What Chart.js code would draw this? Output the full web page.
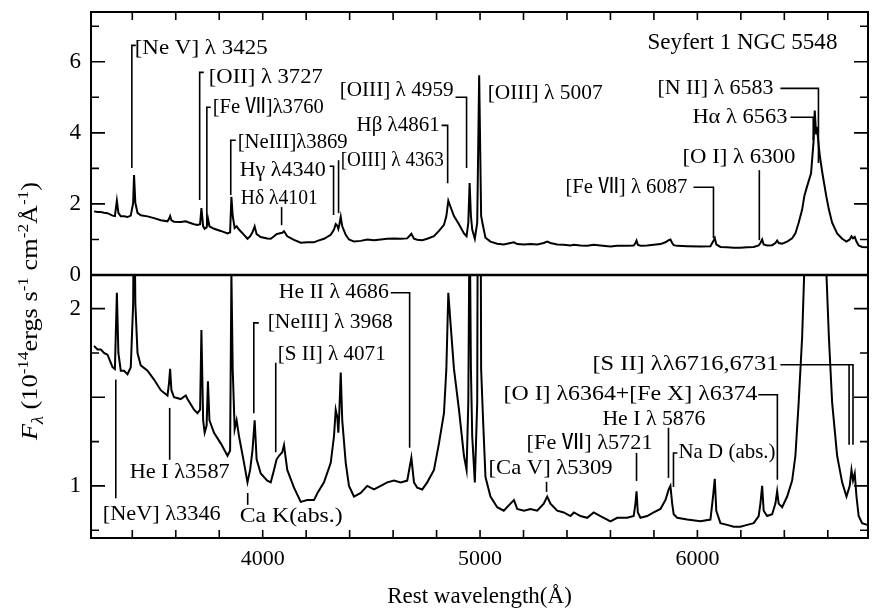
<!DOCTYPE html>
<html>
<head>
<meta charset="utf-8">
<script src="https://cdn.jsdelivr.net/npm/chart.js@4.4.0/dist/chart.umd.min.js"></script>
<style>
  html, body { margin: 0; padding: 0; background: #fff; }
  #spec { display: block; }
</style>
</head>
<body>
<canvas id="spec" width="873" height="611" style="width:873px;height:611px"></canvas>
<script>
// rest wavelength (A) and flux (1e-14 erg/s/cm2/A)
const wavelength = [
  3224, 3240, 3255, 3270, 3286, 3309, 3320, 3329, 3336, 3347, 3362, 3378, 3393, 3404, 3408, 3414,
  3424, 3439, 3470, 3500, 3531, 3562, 3569, 3574, 3580, 3592, 3623, 3646, 3654, 3684, 3700, 3712,
  3718, 3726, 3733, 3742, 3748, 3755, 3776, 3807, 3838, 3850, 3856, 3862, 3871, 3880, 3891, 3914,
  3930, 3942, 3953, 3963, 3972, 3991, 4021, 4037, 4052, 4064, 4075, 4090, 4098, 4113, 4144, 4175,
  4205, 4236, 4252, 4282, 4313, 4328, 4336, 4343, 4348, 4353, 4359, 4366, 4382, 4397, 4420, 4451,
  4481, 4512, 4543, 4573, 4604, 4635, 4665, 4684, 4696, 4711, 4734, 4757, 4788, 4811, 4834, 4845,
  4854, 4864, 4880, 4903, 4926, 4938, 4946, 4952, 4958, 4964, 4976, 4987, 4996, 5005, 5014, 5025,
  5048, 5079, 5109, 5140, 5156, 5171, 5202, 5232, 5263, 5293, 5309, 5324, 5355, 5385, 5416, 5432,
  5462, 5493, 5523, 5554, 5600, 5631, 5677, 5707, 5715, 5720, 5726, 5738, 5769, 5799, 5830, 5853,
  5868, 5876, 5884, 5891, 5907, 5953, 6014, 6060, 6072, 6080, 6087, 6106, 6137, 6167, 6198, 6229,
  6259, 6282, 6290, 6298, 6305, 6321, 6344, 6359, 6367, 6374, 6390, 6413, 6436, 6451, 6466, 6482,
  6492, 6504, 6523, 6535, 6540, 6546, 6550, 6559, 6564, 6575, 6593, 6605, 6620, 6643, 6666, 6686,
  6701, 6709, 6716, 6724, 6732, 6742, 6758, 6781
];
const flux = [
  1.79, 1.77, 1.77, 1.75, 1.74, 1.67, 1.66, 2.09, 1.75, 1.65, 1.65, 1.63, 1.67, 2.03, 2.81, 2.03,
  1.75, 1.68, 1.65, 1.60, 1.54, 1.51, 1.58, 1.66, 1.54, 1.50, 1.49, 1.51, 1.49, 1.43, 1.41, 1.43,
  1.88, 1.37, 1.30, 1.34, 1.59, 1.37, 1.30, 1.24, 1.17, 1.20, 2.20, 1.66, 1.32, 1.37, 1.28, 1.13,
  1.02, 1.09, 1.20, 1.37, 1.15, 1.07, 1.03, 1.02, 1.09, 1.15, 1.17, 1.19, 1.23, 1.09, 0.99, 0.91,
  0.92, 0.92, 0.96, 1.02, 1.13, 1.28, 1.43, 1.39, 1.30, 1.43, 1.64, 1.37, 1.13, 1.00, 0.94, 0.96,
  1.00, 0.98, 1.00, 1.02, 1.03, 1.02, 1.03, 1.16, 1.02, 0.99, 0.98, 1.02, 1.09, 1.24, 1.41, 1.66,
  2.09, 1.92, 1.66, 1.43, 1.17, 1.09, 1.47, 2.59, 1.66, 1.28, 1.02, 1.47, 5.62, 1.66, 1.37, 1.05,
  0.94, 0.88, 0.86, 0.90, 0.92, 0.87, 0.86, 0.87, 0.86, 0.90, 0.94, 0.90, 0.86, 0.85, 0.83, 0.85,
  0.83, 0.82, 0.85, 0.83, 0.80, 0.82, 0.82, 0.83, 0.90, 0.97, 0.85, 0.82, 0.83, 0.85, 0.87, 0.92,
  0.98, 1.00, 0.90, 0.84, 0.82, 0.81, 0.80, 0.81, 0.94, 1.04, 0.86, 0.79, 0.78, 0.77, 0.77, 0.78,
  0.79, 0.83, 0.90, 1.00, 0.86, 0.83, 0.84, 0.90, 0.97, 0.90, 0.88, 0.94, 1.03, 1.17, 1.47, 1.84,
  2.22, 2.48, 2.86, 3.79, 4.63, 3.98, 4.17, 3.60, 3.32, 2.87, 2.22, 1.84, 1.47, 1.17, 1.02, 0.94,
  1.00, 1.09, 1.03, 1.07, 0.94, 0.83, 0.79, 0.78
];

// axes
const xRange = [3210, 6785];
const xTicks = [3400, 3600, 3800, 4000, 4200, 4400, 4600, 4800, 5000, 5200, 5400, 5600, 5800, 6000, 6200, 6400, 6600];
const xTickLabels = [4000, 5000, 6000];
const topRange = [0, 7.4];
const topTicks = [1, 2, 3, 4, 5, 6, 7];
const topTickLabels = [0, 2, 4, 6];
const botRange = [0.706, 2.19];
const botTicks = [0.75, 1, 1.25, 1.5, 1.75, 2];
const botMajor = [1, 1.5, 2];
const botTickLabels = [1, 2];

// line identifications: text anchor and leader lines in data coordinates, w = text width in px
const notes = [
  { text: '[Ne V] λ 3425', axis: 'yTop', at: [3411, 6.38], w: 133, paths: [[[3416, 6.46], [3398, 6.46], [3398, 3.01]]] },
  { text: '[OII] λ 3727', axis: 'yTop', at: [3752, 5.56], w: 114, paths: [[[3729, 5.70], [3710, 5.70], [3710, 2.11]]] },
  { text: '[Fe Ⅶ]λ3760', axis: 'yTop', at: [3770, 4.72], w: 111, paths: [[[3761, 4.72], [3743, 4.72], [3743, 1.40]]] },
  { text: '[NeIII]λ3869', axis: 'yTop', at: [3885, 3.74], w: 110, paths: [[[3876, 3.79], [3853, 3.79], [3853, 2.25]]] },
  { text: 'Hγ λ4340', axis: 'yTop', at: [3894, 2.95], w: 86, paths: [[[4308, 3.06], [4326, 3.06], [4326, 1.69]]] },
  { text: 'Hδ λ4101', axis: 'yTop', at: [3899, 2.16], w: 77, paths: [[[4087, 1.91], [4087, 1.40]]] },
  { text: '[OIII] λ 4363', axis: 'yTop', at: [4359, 3.23], w: 103, paths: [[[4349, 3.23], [4349, 1.74]]] },
  { text: '[OIII] λ 4959', axis: 'yTop', at: [4354, 5.20], w: 114, paths: [[[4887, 5.0], [4938, 5.0], [4938, 3.01]]] },
  { text: 'Hβ λ4861', axis: 'yTop', at: [4432, 4.21], w: 83, paths: [[[4823, 4.21], [4851, 4.21], [4851, 2.58]]] },
  { text: '[OIII] λ 5007', axis: 'yTop', at: [5035, 5.11], w: 115, paths: [] },
  { text: 'Seyfert 1 NGC 5548', axis: 'yTop', at: [5770, 6.52], w: 190, paths: [] },
  { text: '[N II] λ 6583', axis: 'yTop', at: [5816, 5.25], w: 116, paths: [[[6382, 5.25], [6557, 5.25], [6557, 3.15]]] },
  { text: 'Hα λ 6563', axis: 'yTop', at: [5977, 4.44], w: 95, paths: [[[6428, 4.44], [6533, 4.44], [6533, 3.79]]] },
  { text: '[O I] λ 6300', axis: 'yTop', at: [5931, 3.31], w: 113, paths: [[[6285, 2.95], [6285, 0.98]]] },
  { text: '[Fe Ⅶ] λ 6087', axis: 'yTop', at: [5393, 2.47], w: 122, paths: [[[5982, 2.47], [6074, 2.47], [6074, 1.04]]] },
  { text: 'He II λ 4686', axis: 'yBot', at: [4074, 2.09], w: 110, paths: [[[4589, 2.09], [4676, 2.09], [4676, 1.215]]] },
  { text: '[NeIII] λ 3968', axis: 'yBot', at: [4023, 1.92], w: 125, paths: [[[3982, 1.92], [3959, 1.92], [3959, 1.41]]] },
  { text: '[S II] λ 4071', axis: 'yBot', at: [4069, 1.74], w: 108, paths: [[[4060, 1.695], [4060, 1.19]]] },
  { text: '[NeV] λ3346', axis: 'yBot', at: [3264, 0.836], w: 118, paths: [[[3324, 1.60], [3324, 0.93]]] },
  { text: 'He I λ3587', axis: 'yBot', at: [3388, 1.073], w: 100, paths: [[[3572, 1.44], [3572, 1.147]]] },
  { text: 'Ca K(abs.)', axis: 'yBot', at: [3894, 0.825], w: 103, paths: [[[3931, 0.96], [3931, 0.893]]] },
  { text: '[Ca V] λ5309', axis: 'yBot', at: [5039, 1.096], w: 124, paths: [[[5306, 1.023], [5306, 0.966]]] },
  { text: '[Fe Ⅶ] λ5721', axis: 'yBot', at: [5214, 1.237], w: 126, paths: [[[5720, 1.186], [5720, 1.028]]] },
  { text: 'He I λ 5876', axis: 'yBot', at: [5563, 1.373], w: 103, paths: [[[5867, 1.328], [5867, 1.045]]] },
  { text: 'Na D (abs.)', axis: 'yBot', at: [5913, 1.186], w: 97, paths: [[[5908, 1.186], [5890, 1.186], [5890, 0.994]]] },
  { text: '[O I] λ6364+[Fe X] λ6374', axis: 'yBot', at: [5108, 1.514], w: 254, paths: [[[6280, 1.514], [6368, 1.514], [6368, 1.034]]] },
  { text: '[S II] λλ6716,6731', axis: 'yBot', at: [5517, 1.684], w: 186, paths: [[[6382, 1.684], [6716, 1.684], [6716, 1.232]], [[6698, 1.684], [6698, 1.232]]] }
];

const SERIF = '"Liberation Serif", "Times New Roman", "Noto Sans CJK SC", serif';

const points = wavelength.map((w, i) => ({ x: w, y: flux[i] }));

// the same spectrum is drawn in both panels, each clipped to its own y scale
const panelClip = {
  id: 'panelClip',
  beforeDatasetDraw(chart, args) {
    const ys = chart.scales[args.meta.yAxisID];
    const a = chart.chartArea;
    chart.ctx.save();
    chart.ctx.beginPath();
    chart.ctx.rect(a.left, ys.top, a.right - a.left, ys.bottom - ys.top);
    chart.ctx.clip();
  },
  afterDatasetDraw(chart) {
    chart.ctx.restore();
  }
};

function drawYTitle(ctx, cx, cy, length) {
  const parts = [
    { t: 'F', size: 23, dy: 0, it: true },
    { t: 'λ', size: 16, dy: 6, it: true },
    { t: ' (10', size: 23, dy: 0 },
    { t: '-14', size: 15, dy: -9 },
    { t: 'ergs s', size: 23, dy: 0 },
    { t: '-1', size: 15, dy: -9 },
    { t: ' cm', size: 23, dy: 0 },
    { t: '-2', size: 15, dy: -9 },
    { t: 'Å', size: 23, dy: 0 },
    { t: '-1', size: 15, dy: -9 },
    { t: ')', size: 23, dy: 0 }
  ];
  ctx.save();
  ctx.translate(cx, cy);
  ctx.rotate(-Math.PI / 2);
  ctx.textBaseline = 'alphabetic';
  ctx.textAlign = 'left';
  let total = 0;
  parts.forEach(p => {
    ctx.font = (p.it ? 'italic ' : '') + p.size + 'px ' + SERIF;
    p.w = ctx.measureText(p.t).width;
    total += p.w;
  });
  ctx.scale(length / total, 1);
  let x = -total / 2;
  parts.forEach(p => {
    ctx.font = (p.it ? 'italic ' : '') + p.size + 'px ' + SERIF;
    ctx.fillText(p.t, x, 7 + p.dy);
    x += p.w;
  });
  ctx.restore();
}

// text squeezed or stretched to the width it has in the figure
function fitText(ctx, text, x, y, w) {
  const m = ctx.measureText(text).width;
  ctx.save();
  ctx.translate(x, y);
  ctx.scale(w / m, 1);
  ctx.fillText(text, 0, 0);
  ctx.restore();
}

const decor = {
  id: 'decor',
  afterDraw(chart) {
    const ctx = chart.ctx;
    const a = chart.chartArea;
    const xs = chart.scales.x;
    const yt = chart.scales.yTop;
    const yb = chart.scales.yBot;
    ctx.save();
    ctx.strokeStyle = '#000';
    ctx.fillStyle = '#000';

    // frame and panel divider
    ctx.lineWidth = 2;
    ctx.strokeRect(a.left, a.top, a.right - a.left, a.bottom - a.top);
    ctx.lineWidth = 2.5;
    ctx.beginPath();
    ctx.moveTo(a.left, yt.bottom);
    ctx.lineTo(a.right, yt.bottom);
    ctx.stroke();

    // inward ticks
    ctx.lineWidth = 1.6;
    ctx.beginPath();
    xTicks.forEach(v => {
      const px = xs.getPixelForValue(v);
      ctx.moveTo(px, a.bottom); ctx.lineTo(px, a.bottom - 8);
      ctx.moveTo(px, a.top); ctx.lineTo(px, a.top + 8);
    });
    topTicks.forEach(v => {
      const py = yt.getPixelForValue(v);
      const len = v % 2 === 0 ? 14 : 8;
      ctx.moveTo(a.left, py); ctx.lineTo(a.left + len, py);
      ctx.moveTo(a.right, py); ctx.lineTo(a.right - len, py);
    });
    botTicks.forEach(v => {
      const py = yb.getPixelForValue(v);
      const len = botMajor.includes(v) ? 14 : 8;
      ctx.moveTo(a.left, py); ctx.lineTo(a.left + len, py);
      ctx.moveTo(a.right, py); ctx.lineTo(a.right - len, py);
    });
    ctx.stroke();

    // tick labels
    ctx.font = '23px ' + SERIF;
    ctx.textAlign = 'right';
    ctx.textBaseline = 'middle';
    topTickLabels.forEach(v => ctx.fillText(String(v), a.left - 10, yt.getPixelForValue(v)));
    botTickLabels.forEach(v => ctx.fillText(String(v), a.left - 10, yb.getPixelForValue(v)));
    ctx.font = '22px ' + SERIF;
    ctx.textAlign = 'center';
    xTickLabels.forEach(v => ctx.fillText(String(v), xs.getPixelForValue(v), a.bottom + 21));

    // axis titles
    ctx.font = '23px ' + SERIF;
    ctx.fillText('Rest wavelength(Å)', (a.left + a.right) / 2, a.bottom + 59);
    drawYTitle(ctx, 30, 311, 258);

    // line identifications
    ctx.textAlign = 'left';
    ctx.lineWidth = 1.6;
    notes.forEach(n => {
      const ys = chart.scales[n.axis];
      ctx.font = (n.w > 180 && n.text.startsWith('Sey') ? '23px ' : '21px ') + SERIF;
      fitText(ctx, n.text, xs.getPixelForValue(n.at[0]), ys.getPixelForValue(n.at[1]), n.w);
      n.paths.forEach(path => {
        ctx.beginPath();
        path.forEach((p, i) => {
          const px = xs.getPixelForValue(p[0]);
          const py = ys.getPixelForValue(p[1]);
          if (i === 0) ctx.moveTo(px, py); else ctx.lineTo(px, py);
        });
        ctx.stroke();
      });
    });
    ctx.restore();
  }
};

const lineStyle = {
  borderColor: '#000',
  borderWidth: 2,
  pointRadius: 0,
  tension: 0,
  fill: false
};

new Chart(document.getElementById('spec'), {
  type: 'line',
  data: {
    datasets: [
      Object.assign({ label: 'bottom', data: points, yAxisID: 'yBot' }, lineStyle),
      Object.assign({ label: 'top', data: points, yAxisID: 'yTop' }, lineStyle)
    ]
  },
  options: {
    responsive: false,
    animation: false,
    layout: { padding: { left: 91, right: 5, top: 12, bottom: 73 } },
    plugins: { legend: { display: false }, tooltip: { enabled: false } },
    scales: {
      x: { type: 'linear', min: xRange[0], max: xRange[1], display: false },
      yBot: { type: 'linear', position: 'left', stack: 'panels', stackWeight: 1, min: botRange[0], max: botRange[1], display: false },
      yTop: { type: 'linear', position: 'left', stack: 'panels', stackWeight: 1, min: topRange[0], max: topRange[1], display: false }
    }
  },
  plugins: [panelClip, decor]
});
</script>
</body>
</html>
